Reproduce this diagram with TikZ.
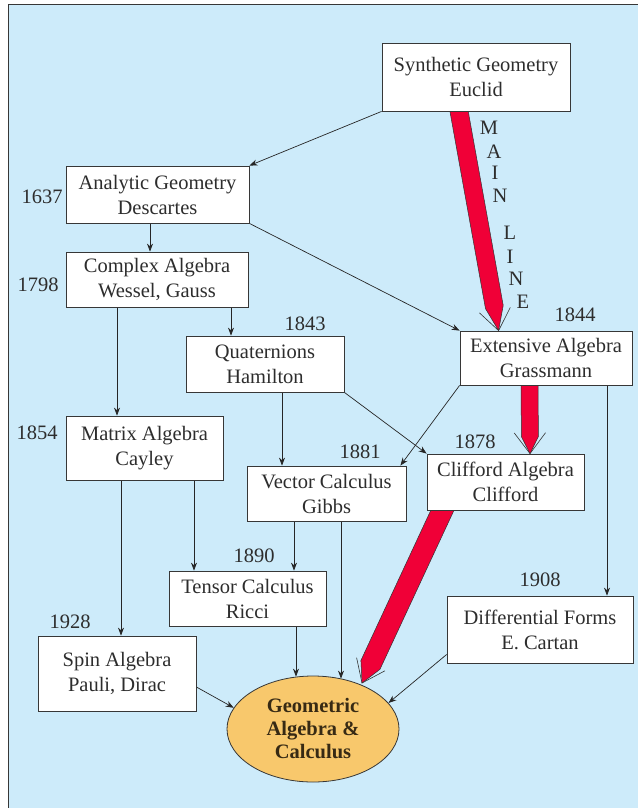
\documentclass[tikz,border=0pt]{standalone}
\usepackage{fontspec}
\setmainfont{Liberation Serif}
\usetikzlibrary{arrows.meta,calc,shapes.geometric}
\pgfdeclarelayer{back}
\pgfdeclarelayer{mid}
\pgfsetlayers{back,mid,main}
\definecolor{bgblue}{RGB}{205,235,250}
\definecolor{txt}{RGB}{45,45,45}
\definecolor{edgec}{RGB}{55,55,55}
\definecolor{mainred}{RGB}{240,0,55}
\definecolor{gold}{RGB}{248,200,108}
\definecolor{elltxt}{RGB}{55,42,20}
\newcommand\myredarrow[4]{%
  \coordinate (#2h) at ($(#2)!#4!(#1)$);
  \draw[barb] ($(#2)!26pt!37:(#1)$) -- (#2) -- ($(#2)!26pt!-37:(#1)$);
  \filldraw[redarr] ($(#1)!#3!90:(#2)$) -- ($(#2h)!#3!90:(#2)$) -- (#2)
     -- ($(#2h)!#3!-90:(#2)$) -- ($(#1)!#3!-90:(#2)$) -- cycle;
}
\begin{document}
\begin{tikzpicture}[x=1pt,y=-1pt,
  box/.style={draw=edgec, line width=0.8pt, fill=white, align=center, inner sep=0pt,
    font=\fontsize{20.5}{25}\selectfont, text=txt},
  yr/.style={inner sep=0pt, font=\fontsize{20.5}{25}\selectfont, text=txt},
  conn/.style={draw=black!85, line width=0.7pt, -{Stealth[length=8pt,width=6pt]}},
  redarr/.style={fill=mainred, draw=black!80, line width=0.5pt},
  barb/.style={draw=black!80, line width=0.6pt}]
\useasboundingbox (0,0) rectangle (638,808);
\begin{pgfonlayer}{back}
  \fill[bgblue] (8,5) rectangle (638,808);
  \draw[edgec, line width=1pt] (8,808) -- (8,5) -- (638,5);
\end{pgfonlayer}

% boxes
\node[box, minimum width=188pt, minimum height=68pt] (syn) at (476,77) {Synthetic Geometry\\Euclid};
\node[box, minimum width=183pt, minimum height=57pt] (ana) at (157.5,194.5) {Analytic Geometry\\Descartes};
\node[box, minimum width=182pt, minimum height=55pt] (cpx) at (157,279.5) {Complex Algebra\\Wessel, Gauss};
\node[box, minimum width=158pt, minimum height=56pt] (qua) at (265,364) {Quaternions\\Hamilton};
\node[box, minimum width=172pt, minimum height=54pt] (ext) at (546,358) {Extensive Algebra\\Grassmann};
\node[box, minimum width=157pt, minimum height=64pt] (mat) at (144.5,448) {Matrix Algebra\\Cayley};
\node[box, minimum width=159pt, minimum height=55pt] (vec) at (326.5,493.5) {Vector Calculus\\Gibbs};
\node[box, minimum width=157pt, minimum height=56pt] (clf) at (505.5,482) {Clifford Algebra\\Clifford};
\node[box, minimum width=157pt, minimum height=55pt] (ten) at (247.5,598.5) {Tensor Calculus\\Ricci};
\node[box, minimum width=158pt, minimum height=75pt] (spin) at (117,673.5) {Spin Algebra\\Pauli, Dirac};
\node[box, minimum width=186pt, minimum height=67pt] (dif) at (540,629.5) {Differential Forms\\E. Cartan};
\node[ellipse, draw=edgec, line width=0.8pt, fill=gold, minimum width=172pt, minimum height=106pt,
  inner sep=0pt, align=center, font=\bfseries\fontsize{20.5}{23}\selectfont, text=elltxt]
  (ell) at (313,729) {Geometric\\Algebra \&\\Calculus};

% years
\node[yr] (y1637) at (42,197) {1637};
\node[yr] (y1798) at (38,285) {1798};
\node[yr] (y1843) at (305,324) {1843};
\node[yr] (y1844) at (575,315) {1844};
\node[yr] (y1854) at (37,433) {1854};
\node[yr] (y1881) at (360,452) {1881};
\node[yr] (y1878) at (475,442) {1878};
\node[yr] (y1890) at (254,556) {1890};
\node[yr] (y1908) at (540,580) {1908};
\node[yr] (y1928) at (70,622) {1928};

% MAIN LINE
\node[yr] (ml1) at (489,128) {M};
\node[yr] (ml2) at (494,152) {A};
\node[yr] (ml3) at (495,173) {I};
\node[yr] (ml4) at (500,196) {N};
\node[yr] (ml5) at (510,233) {L};
\node[yr] (ml6) at (510,257) {I};
\node[yr] (ml7) at (516,279) {N};
\node[yr] (ml8) at (523,302) {E};

% column coordinates
\coordinate (x117) at (117,0);
\coordinate (x121) at (121,0);
\coordinate (x150) at (150,0);
\coordinate (x194) at (194,0);
\coordinate (x231) at (231,0);
\coordinate (x282) at (282,0);
\coordinate (x294) at (294,0);
\coordinate (x296) at (296,0);
\coordinate (x341) at (341,0);
\coordinate (x607) at (607,0);

\begin{pgfonlayer}{mid}
\draw[conn] (syn.south west) -- (ana.north east);
\draw[conn] (ana.south -| x150) -- (cpx.north -| x150);
\draw[conn] (ana.south east) -- (ext.north west);
\draw[conn] (cpx.south -| x231) -- (qua.north -| x231);
\draw[conn] (cpx.south -| x117) -- (mat.north -| x117);
\draw[conn] (qua.south -| x282) -- (vec.north -| x282);
\draw[conn] (qua.south east) -- (clf.north west);
\draw[conn] (ext.south west) -- ([xshift=-6pt]vec.north east);
\draw[conn] (ext.south -| x607) -- (dif.north -| x607);
\draw[conn] (mat.south -| x121) -- (spin.north -| x121);
\draw[conn] (mat.south -| x194) -- (ten.north -| x194);
\draw[conn] (vec.south -| x294) -- (ten.north -| x294);
\draw[conn, shorten >=-1pt] (ten.south -| x296) -- (ell.north -| x296);
\draw[conn, shorten >=-3pt] (vec.south -| x341) -- (ell.north -| x341);
\draw[conn] ([yshift=-13.5pt]spin.east) -- (ell.165);
\draw[conn] ([yshift=-25pt]dif.west) -- (ell.19);

% red main-line arrows
\coordinate (r1s) at ($(syn.south)+(-18,-6)$);
\coordinate (r1t) at ($(ext.north west)+(39,0)$);
\myredarrow{r1s}{r1t}{9pt}{24pt}
\coordinate (r2s) at ($(ext.south)+(-16.5,-6)$);
\coordinate (r2t) at ($(clf.north)+(24.5,0)$);
\myredarrow{r2s}{r2t}{8.5pt}{17pt}
\coordinate (r3s) at ($(clf.south)+(-58.5,-10)$);
\coordinate (r3t) at ($(ell.center)+(49,-46)$);
\myredarrow{r3s}{r3t}{10.5pt}{20pt}
\end{pgfonlayer}
\end{tikzpicture}
\end{document}
